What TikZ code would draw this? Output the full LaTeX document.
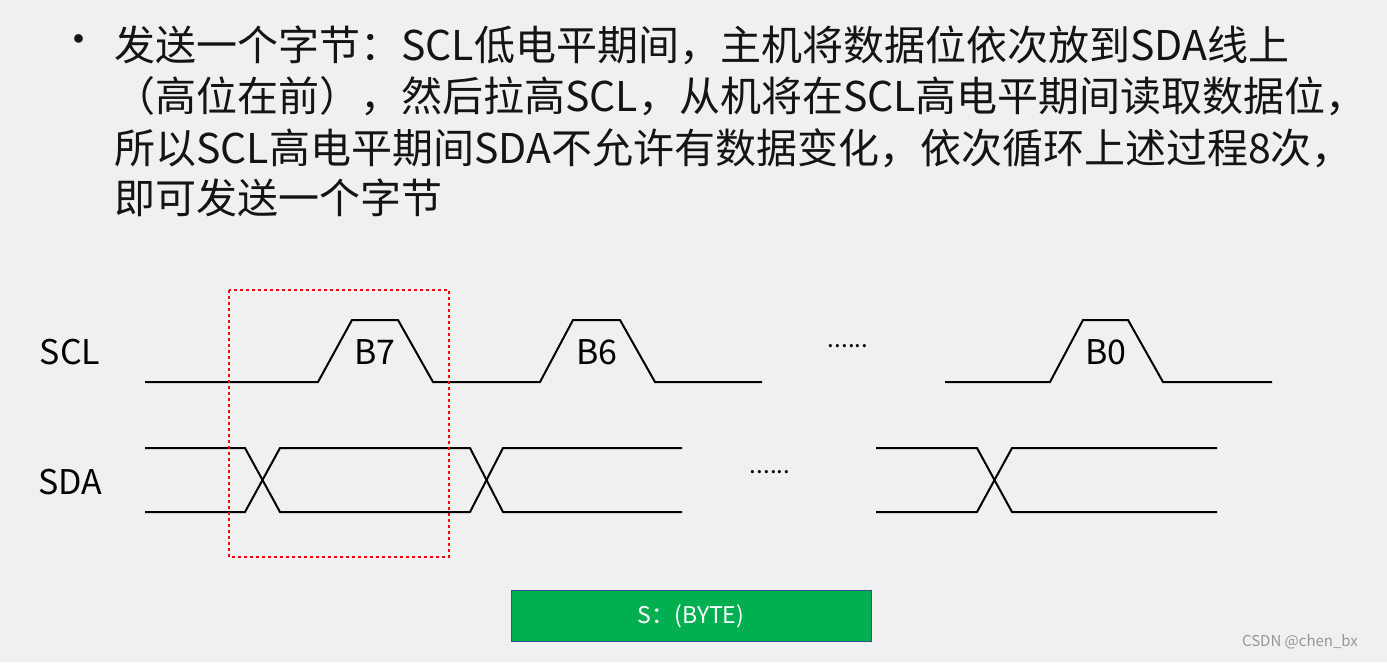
\documentclass[tikz,border=0pt]{standalone}
\usepackage{fontspec}
\setmainfont{Noto Sans CJK SC}
\begin{document}
\begin{tikzpicture}[x=1pt,y=-1pt,
  sig/.style={line width=2pt,black},
  lbl/.style={font=\fontsize{34}{38}\selectfont},
  txt/.style={anchor=west,font=\fontsize{41}{46}\selectfont,inner sep=0pt,text={rgb,255:red,20;green,20;blue,20}}]
\fill[fill={rgb,255:red,240;green,240;blue,240}] (0,0) rectangle (1387,662);
\useasboundingbox (0,0) rectangle (1387,662);
\node[txt] (bul) at (58,45) {•};
\node[txt] (l1) at (114,45) {发送一个字节：SCL低电平期间，主机将数据位依次放到SDA线上};
\node[txt] (l2) at (114,96) {（高位在前），然后拉高SCL，从机将在SCL高电平期间读取数据位，};
\node[txt] (l3) at (114,148) {所以SCL高电平期间SDA不允许有数据变化，依次循环上述过程8次，};
\node[txt] (l4) at (114,198) {即可发送一个字节};
\node[lbl] (scl) at (70,352) {SCL};
\node[lbl] (sda) at (70,482) {SDA};
\draw[sig] (145,382)--(318,382)--(352,320)--(398,320)--(433,382)--(540,382)--(573,320)--(620,320)--(655,382)--(762,382);
\draw[sig] (945,382)--(1050,382)--(1083,320)--(1128,320)--(1163,382)--(1272,382);
\node[lbl] (b7) at (375,352) {B7};
\node[lbl] (b6) at (597,352) {B6};
\node[lbl] (b0) at (1106,352) {B0};
\node[font=\fontsize{24}{26}\selectfont] (d1) at (848,346) {......};
\node[font=\fontsize{24}{26}\selectfont] (d2) at (770,472) {......};
\draw[sig] (145,448)--(245,448)--(280,512)--(470,512)--(503,448)--(682,448);
\draw[sig] (145,512)--(245,512)--(280,448)--(470,448)--(503,512)--(682,512);
\draw[sig] (876,448)--(977,448)--(1012,512)--(1217,512);
\draw[sig] (876,512)--(977,512)--(1012,448)--(1217,448);
\draw[red,dashed,line width=1.3pt] (229,290) rectangle (449,557);
\node[draw={rgb,255:red,47;green,82;blue,143},line width=1pt,fill={rgb,255:red,0;green,176;blue,80},minimum width=360pt,minimum height=51pt,text=white,font=\fontsize{23}{25}\selectfont] (s) at (691,616) {S：(BYTE)};
\node[text={rgb,255:red,150;green,150;blue,150},font=\fontsize{15}{16}\selectfont] (wm) at (1300,642) {CSDN @chen\_bx};
\end{tikzpicture}
\end{document}
